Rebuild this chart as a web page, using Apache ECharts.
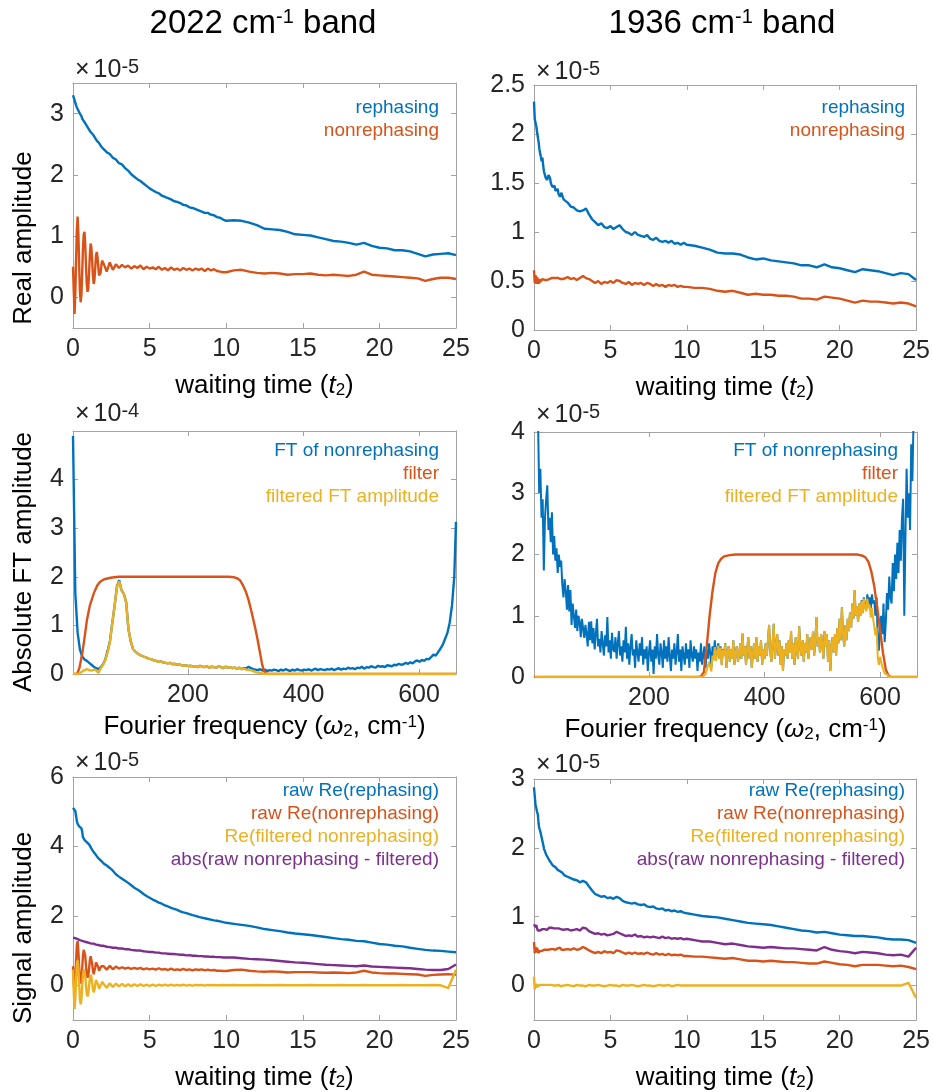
<!DOCTYPE html>
<html><head><meta charset="utf-8">
<script src="https://cdn.jsdelivr.net/npm/echarts@6/dist/echarts.min.js"></script>
<style>html,body{margin:0;padding:0;background:#fff}#c{width:933px;height:1092px}</style>
</head><body><div id="c"></div>
<script>
// ---------- DATA (values in units of the ×10^n axis multiplier) ----------
const t2 = [
0,0.05,0.1,0.15,0.2,0.25,0.3,0.35,0.4,0.45,0.5,0.55,0.6,0.65,0.7,0.75,0.8,0.85,0.9,0.95,1,1.05,1.1,1.15,1.2,1.25,1.3,1.35,1.4,1.45,1.5,1.55,1.6,1.65,1.7,1.75,1.8,1.85,1.9,1.95,2,
2.2,2.4,2.6,2.8,3,3.2,3.4,3.6,3.8,4,4.2,4.4,4.6,4.8,5,5.2,5.4,5.6,5.8,6,6.2,6.4,6.6,6.8,7,7.2,7.4,7.6,7.8,8,8.2,8.4,8.6,8.8,9,9.2,9.4,9.6,9.8,10,
10.5,11,11.5,12,12.5,13,13.5,14,14.5,15,15.5,16,16.5,17,17.5,18,18.5,19,19.5,20,20.5,21,21.5,22,22.5,23,23.5,24,24.5,25];

// Panel A: 2022 band, real amplitude
const reph2022 = [
3.30,3.26,3.22,3.20,3.14,3.10,3.08,3.05,3.02,3.00,2.97,2.96,2.92,2.90,2.89,2.86,2.84,2.83,2.80,2.78,2.77,2.74,2.73,2.70,2.69,2.67,2.66,2.63,2.62,2.60,2.59,2.56,2.55,2.53,2.52,2.49,2.49,2.46,2.45,2.43,2.42,
2.37,2.34,2.28,2.25,2.19,2.17,2.11,2.07,2.01,1.97,1.93,1.90,1.86,1.82,1.78,1.75,1.72,1.70,1.66,1.64,1.62,1.60,1.57,1.56,1.54,1.51,1.50,1.47,1.46,1.44,1.42,1.40,1.38,1.38,1.35,1.34,1.31,1.30,1.27,1.25,
1.26,1.25,1.22,1.18,1.12,1.11,1.10,1.07,1.03,1.02,1.01,0.98,0.95,0.92,0.91,0.89,0.86,0.89,0.84,0.81,0.80,0.77,0.77,0.75,0.71,0.67,0.70,0.71,0.72,0.69];
const nonreph2022 = [
0.50,0.10,-0.27,0.05,0.60,1.10,1.32,1.05,0.55,0.10,-0.08,0.05,0.40,0.80,1.03,1.07,0.85,0.50,0.20,0.09,0.15,0.40,0.70,0.88,0.82,0.60,0.35,0.22,0.28,0.48,0.68,0.74,0.66,0.50,0.36,0.33,0.40,0.52,0.60,0.61,0.55,
0.42,0.57,0.45,0.54,0.48,0.53,0.49,0.52,0.47,0.51,0.48,0.52,0.46,0.50,0.47,0.49,0.46,0.50,0.45,0.48,0.44,0.49,0.45,0.47,0.44,0.48,0.45,0.47,0.44,0.47,0.45,0.47,0.43,0.47,0.44,0.46,0.43,0.42,0.41,0.41,
0.44,0.45,0.42,0.40,0.39,0.40,0.39,0.37,0.38,0.38,0.39,0.37,0.36,0.37,0.36,0.35,0.37,0.42,0.37,0.36,0.35,0.34,0.33,0.32,0.31,0.27,0.30,0.32,0.32,0.30];

// Panel B: 1936 band, real amplitude
const reph1936 = [
2.33,2.15,2.14,2.08,2.02,2.01,1.92,1.85,1.80,1.77,1.72,1.76,1.68,1.62,1.60,1.56,1.55,1.53,1.55,1.58,1.60,1.55,1.50,1.48,1.46,1.44,1.45,1.47,1.42,1.40,1.41,1.44,1.39,1.38,1.36,1.38,1.40,1.37,1.35,1.33,1.32,
1.30,1.26,1.25,1.22,1.21,1.22,1.24,1.18,1.13,1.10,1.07,1.09,1.05,1.04,1.06,1.03,1.05,1.07,1.03,1.00,0.99,0.97,1.00,0.97,0.96,0.95,0.97,0.93,0.92,0.94,0.91,0.90,0.91,0.89,0.91,0.88,0.89,0.87,0.89,0.87,
0.86,0.84,0.82,0.79,0.78,0.78,0.77,0.74,0.72,0.73,0.71,0.70,0.69,0.68,0.66,0.66,0.64,0.67,0.64,0.63,0.61,0.59,0.62,0.61,0.60,0.58,0.56,0.58,0.57,0.51];
const nonreph1936 = [
0.61,0.48,0.56,0.47,0.54,0.50,0.47,0.52,0.49,0.51,0.50,0.52,0.51,0.53,0.51,0.52,0.53,0.51,0.52,0.53,0.52,0.54,0.52,0.53,0.52,0.54,0.53,0.52,0.54,0.53,0.52,0.54,0.53,0.51,0.53,0.52,0.54,0.53,0.52,0.53,0.52,
0.54,0.52,0.53,0.51,0.53,0.55,0.53,0.52,0.50,0.48,0.50,0.47,0.49,0.48,0.50,0.48,0.51,0.50,0.48,0.47,0.49,0.46,0.48,0.47,0.48,0.46,0.48,0.47,0.45,0.47,0.45,0.46,0.44,0.46,0.45,0.46,0.44,0.45,0.44,0.44,
0.43,0.43,0.42,0.40,0.39,0.40,0.38,0.36,0.37,0.36,0.36,0.35,0.35,0.34,0.32,0.32,0.31,0.34,0.33,0.32,0.30,0.28,0.30,0.29,0.29,0.28,0.27,0.28,0.27,0.24];

// Panel C: 2022 band FT (×1e-4), frequency grid in cm^-1
const freqC = [
1,5,9,13,17,21,25,29,33,37,41,45,49,53,57,61,65,69,73,77,81,85,89,93,97,101,105,109,113,117,
121,125,129,133,137,141,145,149,153,157,161,165,169,173,177,181,185,189,193,197,201,205,209,213,217,221,225,229,233,237,
241,245,249,253,257,261,265,269,273,277,281,285,289,293,297,301,305,309,313,317,321,325,329,333,337,341,345,349,353,357,
361,365,369,373,377,381,385,389,393,397,401,405,409,413,417,421,425,429,433,437,441,445,449,453,457,461,465,469,473,477,
481,485,489,493,497,501,505,509,513,517,521,525,529,533,537,541,545,549,553,557,561,565,569,573,577,581,585,589,593,597,
601,605,609,613,617,621,625,629,633,637,641,645,649,653,657,661,664];
const ftNonreph2022 = [
4.90,1.66,0.85,0.50,0.36,0.30,0.27,0.23,0.19,0.15,
0.12,0.10,0.14,0.20,0.30,0.48,0.68,1.05,1.40,1.80,
1.93,1.72,1.65,1.48,0.92,0.67,0.51,0.46,0.42,0.39,
0.37,0.35,0.33,0.31,0.30,0.28,0.27,0.25,0.26,0.24,
0.23,0.22,0.23,0.20,0.21,0.19,0.20,0.18,0.17,0.18,
0.16,0.17,0.15,0.16,0.14,0.17,0.15,0.14,0.16,0.13,
0.15,0.14,0.13,0.16,0.14,0.12,0.15,0.13,0.14,0.12,
0.13,0.11,0.13,0.10,0.12,0.12,0.15,0.12,0.10,0.09,
0.08,0.10,0.07,0.09,0.06,0.08,0.07,0.09,0.08,0.06,
0.09,0.07,0.10,0.08,0.06,0.09,0.07,0.10,0.08,0.07,
0.09,0.08,0.10,0.07,0.09,0.11,0.08,0.10,0.09,0.08,
0.10,0.09,0.11,0.08,0.10,0.12,0.09,0.11,0.10,0.13,
0.11,0.12,0.10,0.13,0.12,0.15,0.11,0.14,0.13,0.16,
0.14,0.13,0.17,0.15,0.16,0.14,0.18,0.17,0.16,0.19,
0.18,0.21,0.19,0.20,0.23,0.21,0.24,0.22,0.26,0.28,
0.25,0.29,0.27,0.31,0.30,0.35,0.40,0.38,0.45,0.52,
0.60,0.72,0.84,1.05,1.40,2.00,3.13];
const ftFiltered2022 = [
0,0,0,0.02,0.05,0.08,0.10,0.08,0.07,0.09,
0.08,0.02,0.12,0.19,0.29,0.45,0.66,1.05,1.40,1.79,
1.91,1.72,1.65,1.48,0.92,0.67,0.51,0.46,0.42,0.39,
0.37,0.35,0.33,0.31,0.30,0.28,0.27,0.25,0.26,0.24,
0.23,0.22,0.23,0.20,0.21,0.19,0.20,0.18,0.17,0.18,
0.16,0.17,0.15,0.16,0.14,0.17,0.15,0.14,0.16,0.13,
0.15,0.14,0.13,0.16,0.14,0.12,0.15,0.13,0.14,0.12,
0.13,0.11,0.13,0.10,0.11,0.09,0.08,0.08,0.06,0.04,
0.03,0.02,0.01,0,0,0,0,0,0,0,
0,0,0,0,0,0,0,0,0,0,
0,0,0,0,0,0,0,0,0,0,
0,0,0,0,0,0,0,0,0,0,
0,0,0,0,0,0,0,0,0,0,
0,0,0,0,0,0,0,0,0,0,
0,0,0,0,0,0,0,0,0,0,
0,0,0,0,0,0,0,0,0,0,
0,0,0,0,0,0,0];
const filterFreq2022 = [1,8,12,17,21,25,30,37,43,48,55,66,80,270,280,285,290,295,300,305,310,316,320,325,328,331,335,340,664];
const filter2022 = [0,0,0.12,0.42,0.75,1.1,1.4,1.66,1.82,1.9,1.95,1.98,2,2,1.99,1.97,1.93,1.83,1.7,1.52,1.28,0.97,0.74,0.42,0.22,0.08,0.01,0,0];

// Panel D: 1936 band FT (×1e-5), frequency grid in cm^-1
const freqD = [
2,4,6,8,10,12,14,16,18,20, 22,24,26,28,30,32,34,36,38,40, 42,44,46,48,50,52,54,56,58,60,
62,64,66,68,70,72,74,76,78,80, 82,84,86,88,90,92,94,96,98,100, 102,104,106,108,110,112,114,116,118,120,
122,124,126,128,130,132,134,136,138,140, 142,144,146,148,150,152,154,156,158,160, 162,164,166,168,170,172,174,176,178,180,
182,184,186,188,190,192,194,196,198,200, 202,204,206,208,210,212,214,216,218,220, 222,224,226,228,230,232,234,236,238,240,
242,244,246,248,250,252,254,256,258,260, 262,264,266,268,270,272,274,276,278,280, 282,284,286,288,290,292,294,296,298,300,
302,304,306,308,310,312,314,316,318,320, 322,324,326,328,330,332,334,336,338,340, 342,344,346,348,350,352,354,356,358,360,
362,364,366,368,370,372,374,376,378,380, 382,384,386,388,390,392,394,396,398,400, 402,404,406,408,410,412,414,416,418,420,
422,424,426,428,430,432,434,436,438,440, 442,444,446,448,450,452,454,456,458,460, 462,464,466,468,470,472,474,476,478,480,
482,484,486,488,490,492,494,496,498,500, 502,504,506,508,510,512,514,516,518,520, 522,524,526,528,530,532,534,536,538,540,
542,544,546,548,550,552,554,556,558,560, 562,564,566,568,570,572,574,576,578,580, 582,584,586,588,590,592,594,596,598,600,
602,604,606,608,610,612,614,616,618,620, 622,624,626,628,630,632,634,636,638,640, 642,644,646,648,650,652,654,656,658,660,
662,664];
const ftNonreph1936 = [
7.0,6.0,5.0,4.2,3.0,3.4,2.6,2.9,1.74,2.6,
2.9,3.13,2.4,2.6,2.2,2.69,2.0,2.3,1.9,2.1,
1.7,2.0,1.8,1.9,1.5,1.3,1.6,1.4,1.1,1.5,
1.07,1.42,0.85,1.2,1.0,0.8,1.1,0.75,1.0,0.9,
0.65,0.95,0.98,0.64,0.85,0.7,0.5,0.9,0.6,0.91,
0.55,0.8,0.45,0.7,0.95,0.5,0.62,0.4,0.75,0.55,
0.35,0.68,0.5,0.98,0.4,0.6,0.3,0.72,0.45,0.41,
0.65,0.3,0.55,0.75,0.35,0.5,0.25,0.6,0.4,0.82,
0.3,0.55,0.2,0.5,0.7,0.35,0.45,0.15,0.6,0.4,
0.25,0.55,0.35,0.65,0.2,0.45,0.3,0.5,0.1,0.4,
0.6,0.25,0.45,0.05,0.5,0.3,0.7,0.35,0.2,0.55,
0.4,0.15,0.6,0.3,0.5,0.25,0.65,0.35,0.1,0.45,
0.3,0.55,0.2,0.4,0.7,0.25,0.45,0.1,0.5,0.35,
0.2,0.55,0.3,0.45,0.15,0.6,0.35,0.25,0.5,0.3,
0.45,0.1,0.4,0.25,0.55,0.2,0.35,0.5,0.15,0.45,
0.3,0.55,0.4,0.15,0.5,0.35,0.6,0.3,0.45,0.55,
0.3,0.5,0.2,0.45,0.35,0.55,0.15,0.4,0.5,0.25,
0.45,0.3,0.6,0.2,0.4,0.5,0.25,0.35,0.55,0.3,
0.71,0.35,0.5,0.2,0.45,0.65,0.3,0.5,0.15,0.4,
0.55,0.3,0.65,0.25,0.5,0.35,0.6,0.2,0.45,0.3,
0.55,0.35,0.6,0.85,0.4,0.25,0.55,0.87,0.3,0.5,
0.7,0.35,0.6,0.2,0.5,0.1,0.45,0.35,0.55,0.3,
0.6,0.4,0.75,0.3,0.55,0.2,0.65,0.45,0.3,0.83,
0.5,0.35,0.6,0.25,0.55,0.4,0.7,0.3,0.5,0.65,
0.45,0.75,0.35,0.6,0.98,0.5,0.65,0.4,0.7,0.55,
0.3,0.75,0.5,0.7,0.25,0.6,0.1,0.5,0.65,0.4,
0.7,0.35,0.8,0.55,0.95,0.6,1.14,0.7,0.5,0.85,
0.6,0.95,0.75,1.05,0.8,1.2,0.95,1.42,1.0,1.15,
0.9,1.2,1.0,1.25,1.05,1.3,1.15,1.1,1.35,1.2,
1.3,1.1,1.35,1.2,1.25,1.0,1.3,0.6,0.43,0.84,
1.0,0.7,1.2,0.57,0.9,1.37,1.1,1.64,1.3,1.2,
1.86,1.4,2.0,1.6,2.19,1.7,2.4,1.9,2.6,2.91,
1.0,2.3,3.4,2.6,3.0,2.4,3.8,3.2,4.2,4.6,
4.8,5.2];
const ftFiltered1936 = [
0,0,0,0,0,0,0,0,0,0, 0,0,0,0,0,0,0,0,0,0, 0,0,0,0,0,0,0,0,0,0,
0,0,0,0,0,0,0,0,0,0, 0,0,0,0,0,0,0,0,0,0, 0,0,0,0,0,0,0,0,0,0,
0,0,0,0,0,0,0,0,0,0, 0,0,0,0,0,0,0,0,0,0, 0,0,0,0,0,0,0,0,0,0,
0,0,0,0,0,0,0,0,0,0, 0,0,0,0,0,0,0,0,0,0, 0,0,0,0,0,0,0,0,0,0,
0,0,0,0,0,0,0,0,0,0, 0,0,0,0,0,0,0,0,0,0,
0,0,0,0,0,0.01,0.01,0.03,0.05,0.11,
0.10,0.25,0.22,0.09,0.35,0.27,0.49,0.26,0.41,0.51,
0.29,0.48,0.19,0.44,0.34,0.54,0.15,0.4,0.5,0.25,
0.45,0.3,0.6,0.2,0.4,0.5,0.25,0.35,0.55,0.3,
0.71,0.35,0.5,0.2,0.45,0.65,0.3,0.5,0.15,0.4,
0.55,0.3,0.65,0.25,0.5,0.35,0.6,0.2,0.45,0.3,
0.55,0.35,0.6,0.85,0.4,0.25,0.55,0.87,0.3,0.5,
0.7,0.35,0.6,0.2,0.5,0.1,0.45,0.35,0.55,0.3,
0.6,0.4,0.75,0.3,0.55,0.2,0.65,0.45,0.3,0.83,
0.5,0.35,0.6,0.25,0.55,0.4,0.7,0.3,0.5,0.65,
0.45,0.75,0.35,0.6,0.98,0.5,0.65,0.4,0.7,0.55,
0.3,0.75,0.5,0.7,0.25,0.6,0.1,0.5,0.65,0.4,
0.7,0.35,0.8,0.55,0.95,0.6,1.14,0.7,0.5,0.85,
0.6,0.95,0.75,1.05,0.8,1.2,0.95,1.42,1.0,1.15,
0.9,1.2,1.0,1.24,1.04,1.28,1.13,1.07,1.28,1.12,
1.18,0.97,1.13,0.96,0.93,0.68,0.81,0.33,0.20,0.33,
0.31,0.17,0.20,0.06,0.05,0.04,0.01,0,0,0,
0,0,0,0,0,0,0,0,0,0, 0,0,0,0,0,0,0,0,0,0,
0,0];
const filterFreq1936 = [1,285,290,295,300,305,310,315,320,325,330,340,350,560,565,570,575,580,585,590,595,600,605,610,615,620,664];
const filter1936 = [0,0,0.01,0.08,0.5,1.0,1.4,1.7,1.86,1.93,1.97,1.99,2,2,1.99,1.98,1.95,1.88,1.72,1.48,1.15,0.78,0.40,0.12,0.02,0,0];

// Panel E: 2022 band signal amplitude
const rawReph2022 = [
5.11,5.15,5.12,5.02,4.88,4.74,4.65,4.60,4.58,4.56,4.54,4.52,4.42,4.27,4.22,4.19,4.16,4.14,4.12,4.10,4.08,4.06,4.03,3.98,3.94,3.90,3.87,3.84,3.81,3.78,3.75,3.72,3.70,3.67,3.64,3.62,3.60,3.58,3.56,3.53,3.51,
3.45,3.38,3.30,3.20,3.13,3.07,3.01,2.95,2.88,2.81,2.76,2.70,2.63,2.57,2.52,2.47,2.43,2.38,2.35,2.30,2.27,2.23,2.20,2.17,2.13,2.10,2.08,2.05,2.02,2.00,1.97,1.95,1.93,1.91,1.89,1.87,1.86,1.84,1.82,1.80,
1.77,1.74,1.71,1.67,1.62,1.59,1.56,1.52,1.49,1.47,1.45,1.42,1.39,1.36,1.33,1.31,1.28,1.27,1.23,1.19,1.17,1.14,1.12,1.08,1.05,1.02,1.00,0.99,0.97,0.95];
const rawNonreph2022 = [
0.55,0.05,-0.16,0.15,0.70,1.15,1.27,1.00,0.55,0.15,0.05,0.15,0.48,0.85,1.02,1.04,0.85,0.55,0.30,0.22,0.28,0.48,0.72,0.84,0.80,0.62,0.42,0.32,0.36,0.52,0.66,0.70,0.64,0.52,0.42,0.40,0.45,0.55,0.60,0.60,0.55,
0.45,0.56,0.46,0.54,0.48,0.52,0.48,0.51,0.47,0.50,0.47,0.50,0.46,0.49,0.46,0.48,0.45,0.49,0.45,0.47,0.44,0.48,0.44,0.46,0.44,0.47,0.44,0.46,0.43,0.46,0.44,0.46,0.43,0.45,0.43,0.44,0.42,0.42,0.41,0.41,
0.44,0.45,0.42,0.40,0.39,0.40,0.39,0.37,0.38,0.38,0.38,0.37,0.36,0.37,0.36,0.35,0.37,0.42,0.37,0.35,0.34,0.34,0.33,0.32,0.31,0.27,0.30,0.31,0.32,0.30];
const filtNonreph2022 = [
0.45,-0.20,-0.68,-0.40,0.15,0.60,0.72,0.50,0.05,-0.38,-0.55,-0.40,-0.05,0.30,0.46,0.45,0.28,-0.02,-0.25,-0.32,-0.24,-0.02,0.20,0.30,0.24,0.06,-0.12,-0.20,-0.14,0.02,0.15,0.18,0.12,0.00,-0.10,-0.12,-0.06,0.04,0.10,0.10,0.04,
-0.07,0.06,-0.05,0.05,-0.03,0.04,-0.03,0.03,-0.03,0.03,-0.02,0.03,-0.02,0.02,-0.02,0.02,-0.02,0.02,-0.01,0.02,-0.01,0.02,-0.01,0.01,-0.01,0.02,-0.01,0.01,-0.01,0.01,0.00,0.01,-0.01,0.01,0.00,0.01,0.00,0.00,0.01,0.00,
0.01,0.00,0.00,0.01,0.00,0.00,0.01,0.00,0.00,0.00,0.01,0.00,0.00,0.00,0.01,0.00,0.00,0.01,0.00,0.00,0.00,0.00,0.01,0.00,0.00,0.00,0.01,0.00,-0.08,0.45];
const absDiff2022 = [
1.37,1.35,1.33,1.36,1.38,1.36,1.33,1.31,1.32,1.30,1.29,1.30,1.28,1.27,1.27,1.26,1.25,1.26,1.24,1.23,1.24,1.22,1.21,1.22,1.20,1.20,1.19,1.20,1.18,1.18,1.17,1.18,1.16,1.16,1.15,1.16,1.14,1.14,1.13,1.14,1.12,
1.11,1.10,1.08,1.08,1.06,1.06,1.04,1.04,1.02,1.01,1.00,1.00,0.98,0.97,0.96,0.96,0.94,0.94,0.92,0.92,0.91,0.90,0.90,0.89,0.88,0.88,0.86,0.87,0.85,0.85,0.84,0.84,0.83,0.83,0.82,0.82,0.81,0.81,0.80,0.80,
0.80,0.78,0.76,0.75,0.74,0.72,0.70,0.68,0.66,0.65,0.63,0.61,0.59,0.58,0.57,0.56,0.55,0.57,0.54,0.53,0.52,0.51,0.50,0.49,0.47,0.45,0.44,0.44,0.47,0.60];

// Panel F: 1936 band signal amplitude
const rawReph1936 = [
2.88,2.75,2.62,2.58,2.52,2.49,2.35,2.28,2.25,2.20,2.15,2.17,2.05,1.99,1.97,1.93,1.90,1.88,1.86,1.85,1.82,1.84,1.80,1.77,1.76,1.74,1.75,1.73,1.72,1.73,1.70,1.68,1.69,1.67,1.66,1.67,1.65,1.64,1.63,1.62,1.60,
1.58,1.56,1.54,1.53,1.50,1.52,1.50,1.44,1.38,1.33,1.31,1.29,1.30,1.27,1.28,1.26,1.29,1.27,1.23,1.21,1.20,1.19,1.20,1.18,1.17,1.18,1.15,1.14,1.15,1.12,1.11,1.12,1.09,1.10,1.08,1.09,1.07,1.08,1.06,1.05,
1.03,1.01,1.00,0.99,0.97,0.95,0.93,0.91,0.90,0.89,0.88,0.86,0.84,0.82,0.80,0.79,0.77,0.78,0.76,0.74,0.73,0.72,0.72,0.71,0.70,0.68,0.67,0.67,0.66,0.62];
const rawNonreph1936 = [
0.63,0.47,0.56,0.48,0.55,0.53,0.47,0.50,0.48,0.51,0.50,0.52,0.50,0.52,0.51,0.53,0.52,0.51,0.53,0.52,0.54,0.52,0.53,0.54,0.52,0.53,0.55,0.53,0.52,0.54,0.53,0.54,0.52,0.53,0.55,0.53,0.52,0.54,0.53,0.52,0.54,
0.53,0.52,0.54,0.52,0.53,0.56,0.54,0.51,0.49,0.47,0.49,0.47,0.50,0.48,0.49,0.47,0.51,0.50,0.48,0.46,0.48,0.46,0.48,0.46,0.47,0.46,0.48,0.46,0.45,0.47,0.45,0.46,0.44,0.46,0.44,0.45,0.44,0.45,0.43,0.43,
0.42,0.42,0.41,0.40,0.39,0.40,0.38,0.36,0.36,0.35,0.36,0.35,0.34,0.34,0.33,0.32,0.32,0.35,0.33,0.31,0.30,0.28,0.30,0.30,0.30,0.29,0.28,0.29,0.27,0.24];
const filtNonreph1936 = [
0.13,-0.06,0.03,-0.03,0.02,-0.01,0.01,-0.02,0.01,0.00,-0.01,0.01,0.00,-0.01,0.01,0.00,-0.01,0.01,0.00,0.00,0.01,-0.01,0.00,0.01,0.00,-0.01,0.00,0.01,0.00,0.00,-0.01,0.00,0.01,0.00,0.00,-0.01,0.00,0.01,0.00,0.00,0.00,
0.01,0.00,-0.01,0.01,0.00,0.00,-0.01,0.01,0.00,0.00,0.01,0.00,-0.01,0.00,0.01,0.00,0.00,-0.01,0.01,0.00,0.00,0.01,0.00,-0.01,0.00,0.01,0.00,0.00,-0.01,0.00,0.01,0.00,0.00,0.01,-0.01,0.00,0.01,0.00,0.00,0.00,
0.00,0.00,0.00,0.00,0.00,0.00,0.00,0.00,0.00,0.00,0.00,0.00,0.00,0.00,0.00,0.00,0.00,0.00,0.00,0.00,0.00,0.00,0.00,0.00,0.00,0.00,0.00,0.00,0.04,-0.18];
const absDiff1936 = [
0.89,0.87,0.85,0.88,0.83,0.80,0.79,0.81,0.80,0.81,0.80,0.82,0.81,0.80,0.82,0.81,0.82,0.81,0.83,0.82,0.84,0.83,0.85,0.84,0.83,0.84,0.83,0.85,0.84,0.83,0.84,0.82,0.83,0.82,0.84,0.82,0.83,0.82,0.81,0.82,0.81,
0.82,0.80,0.81,0.82,0.80,0.84,0.83,0.79,0.77,0.75,0.76,0.74,0.75,0.73,0.74,0.75,0.78,0.76,0.74,0.72,0.73,0.72,0.74,0.71,0.72,0.70,0.71,0.70,0.71,0.70,0.69,0.71,0.69,0.70,0.68,0.69,0.68,0.69,0.67,0.68,
0.66,0.64,0.64,0.62,0.60,0.61,0.59,0.57,0.56,0.55,0.56,0.55,0.54,0.54,0.53,0.52,0.51,0.56,0.52,0.50,0.49,0.47,0.49,0.48,0.47,0.45,0.44,0.45,0.42,0.55];

// Tick labels
const timeTicks = [0,5,10,15,20,25];
const freqTicks = [200,400,600];
const yTicksA = [0,1,2,3];
const yTicksB = [0,0.5,1,1.5,2,2.5];
const yTicksC = [0,1,2,3,4];
const yTicksD = [0,1,2,3,4];
const yTicksE = [0,2,4,6];
const yTicksF = [0,1,2,3];

// ---------- STYLE / LAYOUT ----------
const FONT = '"Liberation Sans", Arial, Helvetica, sans-serif';
const COL = {blue:'#0072BD', orange:'#D95319', yellow:'#EDB120', purple:'#7E2F8E'};
const BOX = '#a3a3a3', TXT = '#262626';
const LW = 2.4;

const grids = [
  {left:73, top:83, width:383, height:245},
  {left:534, top:85, width:383, height:245},
  {left:73, top:431, width:383, height:243},
  {left:534, top:432, width:383, height:245},
  {left:73, top:777, width:383, height:245},
  {left:534, top:779, width:383, height:244}
];

const nameStyle = {
  fontSize:26, fontFamily:FONT, color:'#000',
  rich:{
    it:{fontSize:26, fontFamily:FONT, color:'#000', fontStyle:'italic'},
    sub:{fontSize:17, fontFamily:FONT, color:'#000', verticalAlign:'bottom'},
    sup:{fontSize:17, fontFamily:FONT, color:'#000', verticalAlign:'top'}
  }
};
const timeName = 'waiting time ({it|t}{sub|2})';
const freqName = 'Fourier frequency ({it|ω}{sub|2}, cm{sup|-1})';

const xAxis = [], yAxis = [];
function axes(gi, xmin, xmax, xt, name, gap, ymin, ymax, yt) {
  const tick = (vals) => ({show:true, inside:true, length:5, lineStyle:{color:BOX}, customValues:vals});
  const line = {show:true, onZero:false, lineStyle:{color:BOX, width:1}};
  const lbl = (vals) => ({show:true, customValues:vals, color:TXT, fontSize:25, fontFamily:FONT, margin:9});
  xAxis.push({type:'value', gridIndex:gi, position:'bottom', min:xmin, max:xmax, splitLine:{show:false},
    axisLine:line, axisTick:tick(xt), axisLabel:lbl(xt),
    name:name, nameLocation:'middle', nameGap:gap, nameTextStyle:nameStyle});
  xAxis.push({type:'value', gridIndex:gi, position:'top', min:xmin, max:xmax, splitLine:{show:false},
    axisLine:line, axisTick:tick(xt), axisLabel:{show:false}});
  yAxis.push({type:'value', gridIndex:gi, position:'left', min:ymin, max:ymax, splitLine:{show:false},
    axisLine:line, axisTick:tick(yt), axisLabel:lbl(yt)});
  yAxis.push({type:'value', gridIndex:gi, position:'right', min:ymin, max:ymax, splitLine:{show:false},
    axisLine:line, axisTick:tick(yt), axisLabel:{show:false}});
}
axes(0, 0, 25, timeTicks, timeName, 45, -0.5, 3.5, yTicksA);
axes(1, 0, 25, timeTicks, timeName, 45, 0, 2.5, yTicksB);
axes(2, 1, 664, freqTicks, freqName, 40, 0, 5, yTicksC);
axes(3, 1, 664, freqTicks, freqName, 40, 0, 4, yTicksD);
axes(4, 0, 25, timeTicks, timeName, 45, -1, 6, yTicksE);
axes(5, 0, 25, timeTicks, timeName, 45, -0.5, 3, yTicksF);

function ser(gi, xs, ys, color, w) {
  return {type:'line', xAxisIndex:gi*2, yAxisIndex:gi*2, data:xs.map((x,i)=>[x, ys[i]]),
    showSymbol:false, symbol:'none', silent:true, animation:false, clip:true,
    lineStyle:{color:color, width:w || LW}, itemStyle:{color:color}};
}
const series = [
  ser(0, t2, reph2022, COL.blue), ser(0, t2, nonreph2022, COL.orange),
  ser(1, t2, reph1936, COL.blue), ser(1, t2, nonreph1936, COL.orange),
  ser(2, freqC, ftNonreph2022, COL.blue), ser(2, filterFreq2022, filter2022, COL.orange), ser(2, freqC, ftFiltered2022, COL.yellow),
  ser(3, freqD, ftNonreph1936, COL.blue, 2), ser(3, filterFreq1936, filter1936, COL.orange), ser(3, freqD, ftFiltered1936, COL.yellow, 2),
  ser(4, t2, rawReph2022, COL.blue), ser(4, t2, rawNonreph2022, COL.orange), ser(4, t2, filtNonreph2022, COL.yellow), ser(4, t2, absDiff2022, COL.purple),
  ser(5, t2, rawReph1936, COL.blue), ser(5, t2, rawNonreph1936, COL.orange), ser(5, t2, filtNonreph1936, COL.yellow), ser(5, t2, absDiff1936, COL.purple)
];

// ---------- TEXT ELEMENTS ----------
function txt(x, y, text, size, color, align, extra) {
  const st = Object.assign({text:text, fontSize:size, fontFamily:FONT, fill:color, textFill:color,
    align:align, textAlign:align, verticalAlign:'middle', textVerticalAlign:'middle', legacy:false}, extra || {});
  return {type:'text', x:x, y:y, silent:true, style:st};
}
const supRich = (size, color) => ({
  sup:{fontSize:size, fontFamily:FONT, fill:color, verticalAlign:'top'},
  tx:{fontSize:25, fontFamily:FONT, fill:color, padding:[0,4,0,2]}
});
const graphic = [];
graphic.push(txt(263, 24, '2022 cm{sup|-1} band', 33, '#000', 'center', {rich:supRich(20,'#000')}));
graphic.push(txt(722, 24, '1936 cm{sup|-1} band', 33, '#000', 'center', {rich:supRich(20,'#000')}));
const mult = [[73,70,'-5'],[534,72,'-5'],[73,414,'-4'],[534,415,'-5'],[73,763,'-5'],[534,765,'-5']];
mult.forEach(m => graphic.push(txt(m[0], m[1], '{tx|×}10{sup|' + m[2] + '}', 25, TXT, 'left', {rich:supRich(20, TXT)})));
// y-axis titles
[[24,238,'Real amplitude'],[24,562,'Absolute FT amplitude'],[24,928,'Signal amplitude']].forEach(a => {
  const g = txt(a[0], a[1], a[2], 26, '#000', 'center');
  g.rotation = Math.PI/2;
  graphic.push(g);
});
// legends (coloured text, right aligned)
function legend(xr, y0, items) {
  items.forEach((it, i) => graphic.push(txt(xr, y0 + i*23, it[0], 19, it[1], 'right')));
}
legend(439, 108, [['rephasing',COL.blue],['nonrephasing',COL.orange]]);
legend(905, 108, [['rephasing',COL.blue],['nonrephasing',COL.orange]]);
legend(439, 451, [['FT of nonrephasing',COL.blue],['filter',COL.orange],['filtered FT amplitude',COL.yellow]]);
legend(898, 451, [['FT of nonrephasing',COL.blue],['filter',COL.orange],['filtered FT amplitude',COL.yellow]]);
const sigItems = [['raw Re(rephasing)',COL.blue],['raw Re(nonrephasing)',COL.orange],['Re(filtered nonrephasing)',COL.yellow],['abs(raw nonrephasing - filtered)',COL.purple]];
legend(439, 791, sigItems);
legend(905, 791, sigItems);

const chart = echarts.init(document.getElementById('c'), null, {renderer:'canvas'});
chart.setOption({
  animation:false,
  backgroundColor:'#fff',
  textStyle:{fontFamily:FONT},
  grid:grids, xAxis:xAxis, yAxis:yAxis, series:series, graphic:graphic
});
</script></body></html>
